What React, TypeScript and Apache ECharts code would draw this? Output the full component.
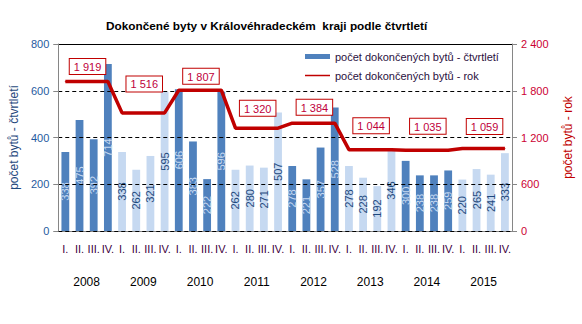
import React, { useEffect, useRef } from "react";
import * as echarts from "echarts";

const years = ["2008", "2009", "2010", "2011", "2012", "2013", "2014", "2015"];
const quarterNames = ["I.", "II.", "III.", "IV."];
const quarterValues = [
  338, 475, 392, 714,
  338, 262, 321, 595,
  606, 383, 222, 596,
  262, 280, 271, 507,
  278, 221, 357, 528,
  278, 228, 192, 346,
  300, 238, 238, 259,
  220, 265, 241, 333,
];
const yearValues = [1919, 1516, 1807, 1320, 1384, 1044, 1035, 1059];
const leftTicks = { min: 0, max: 800, interval: 200 };
const rightTicks = { min: 0, max: 2400, interval: 600 };
// manual vertical nudge for each year's data label box (layout only)
const labelDy = [-2, -16, -1, -7, -3, -11, -11, -9];

const FONT = "'Liberation Sans', Arial, sans-serif";
const DARK = "#4F81BD";
const LIGHT = "#C6D9F1";
const RED = "#C00000";

const fmt = (v: number) => String(v).replace(/\B(?=(\d{3})+(?!\d))/g, "\u00a0");

export default function App() {
  const ref = useRef<HTMLDivElement>(null);
  useEffect(() => {
    if (!ref.current) return;
    const chart = echarts.init(ref.current, undefined, { renderer: "svg" });
    const categories = quarterValues.map((_, i) => quarterNames[i % 4]);
    const barData = quarterValues.map((v, i) => {
      const dark = Math.floor(i / 4) % 2 === 0;
      return {
        value: v,
        itemStyle: { color: dark ? DARK : LIGHT },
        label: { color: dark ? "#C6D9F1" : "#1F497D" },
      };
    });
    const lineData = quarterValues.map((_, i) => {
      const y = Math.floor(i / 4);
      const item: any = { value: yearValues[y] };
      if (i % 4 === 1) {
        item.label = {
          show: true,
          position: "top",
          offset: [8, labelDy[y]],
        };
      }
      return item;
    });
    chart.setOption({
      animation: false,
      textStyle: { fontFamily: FONT },
      title: {
        text: "Dokončené byty v Královéhradeckém  kraji podle čtvrtletí",
        left: 101,
        top: 15,
        textStyle: { fontSize: 11.8, fontWeight: "bold", color: "#000000", fontFamily: FONT },
      },
      legend: {
        orient: "vertical",
        left: 300,
        top: 46,
        itemWidth: 25,
        itemHeight: 5,
        itemGap: 8,
        symbolKeepAspect: true,
        textStyle: { fontSize: 11, color: "#2A1040", fontFamily: FONT },
        data: [
          { name: "počet dokončených bytů - čtvrtletí", icon: "rect", itemStyle: { color: DARK } },
          {
            name: "počet dokončených bytů - rok",
            icon: "path://M0,0H50V3H0Z",
            itemStyle: { color: RED, borderWidth: 0 },
          },
        ],
      },
      grid: { left: 52, right: 66, top: 44, bottom: 93 },
      xAxis: [
        {
          type: "category",
          position: "bottom",
          data: categories,
          axisLine: { lineStyle: { color: "#868686" } },
          axisTick: { interval: 0, length: 31, lineStyle: { color: "#868686" } },
          axisLabel: { interval: 0, margin: 12, fontSize: 11, color: "#400040", fontFamily: FONT },
        },
        {
          type: "category",
          position: "bottom",
          data: years,
          axisLine: { show: false },
          axisTick: { interval: 0, length: 64, lineStyle: { color: "#868686" } },
          axisLabel: { interval: 0, margin: 45, fontSize: 12, color: "#000000", fontFamily: FONT },
        },
        {
          type: "category",
          position: "top",
          data: years,
          axisLine: { lineStyle: { color: "#000000" } },
          axisTick: { show: false },
          axisLabel: { show: false },
        },
      ],
      yAxis: [
        {
          type: "value",
          ...leftTicks,
          z: 3,
          name: "počet bytů - čtvrtletí",
          nameLocation: "middle",
          nameRotate: 90,
          nameGap: 30,
          nameTextStyle: { fontSize: 12, color: "#1F497D", fontFamily: FONT },
          axisLine: { show: true, lineStyle: { color: "#868686" } },
          axisTick: { show: true, length: 5, lineStyle: { color: "#868686" } },
          axisLabel: { margin: 9, fontSize: 11, color: "#1F5AA0", fontFamily: FONT },
          splitLine: { show: true, lineStyle: { color: "#000000", type: [4, 3], width: 1 } },
        },
        {
          type: "value",
          ...rightTicks,
          position: "right",
          name: "počet bytů - rok",
          nameLocation: "middle",
          nameRotate: 90,
          nameGap: 50,
          nameTextStyle: { fontSize: 12, color: RED, fontFamily: FONT },
          axisLine: { show: true, lineStyle: { color: "#868686" } },
          axisTick: { show: true, length: 5, lineStyle: { color: "#868686" } },
          axisLabel: { margin: 9, fontSize: 11, color: "#CC0033", fontFamily: FONT, formatter: (v: number) => fmt(v) },
          splitLine: { show: false },
        },
      ],
      series: [
        {
          name: "počet dokončených bytů - čtvrtletí",
          type: "bar",
          xAxisIndex: 0,
          yAxisIndex: 0,
          barWidth: "55%",
          itemStyle: { color: DARK },
          label: {
            show: true,
            position: "inside",
            rotate: 90,
            fontSize: 11,
            fontFamily: FONT,
          },
          data: barData,
          z: 2,
        },
        {
          name: "počet dokončených bytů - rok",
          type: "line",
          xAxisIndex: 0,
          yAxisIndex: 1,
          symbol: "circle",
          symbolSize: 1,
          showSymbol: true,
          lineStyle: { color: RED, width: 3.5 },
          itemStyle: { color: RED },
          label: {
            show: false,
            formatter: (p: any) => fmt(p.value),
            color: "#C0003C",
            fontSize: 11,
            fontFamily: FONT,
            backgroundColor: "#FFFFFF",
            borderColor: RED,
            borderWidth: 1,
            padding: [2, 4, 1, 4],
            lineHeight: 12,
          },
          data: lineData,
          z: 5,
        },
      ],
    });
    return () => chart.dispose();
  }, []);
  return (
    <div
      ref={ref}
      style={{ position: "fixed", left: 0, top: 0, width: 582, height: 324, background: "#fff" }}
    />
  );
}
